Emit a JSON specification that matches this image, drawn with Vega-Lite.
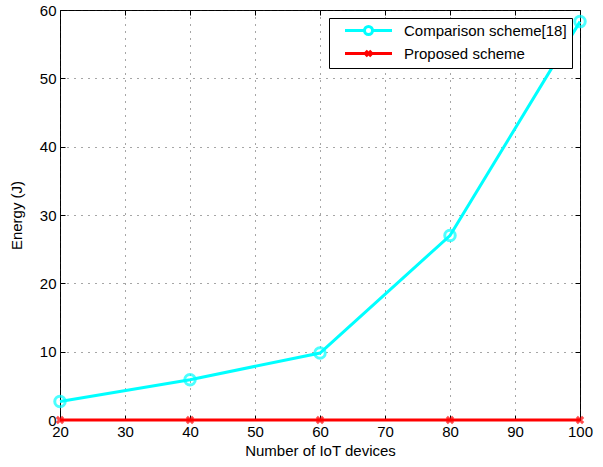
{
  "$schema": "https://vega.github.io/schema/vega-lite/v6.json",
  "width": 520,
  "height": 410,
  "autosize": {"type": "none"},
  "padding": {"left": 60, "top": 10, "right": 23, "bottom": 47},
  "background": "white",
  "config": {
    "font": "Liberation Sans",
    "view": {"stroke": "black", "strokeWidth": 1},
    "axis": {
      "labelFont": "Liberation Sans",
      "titleFont": "Liberation Sans",
      "labelFontSize": 15,
      "titleFontSize": 15,
      "titleFontWeight": "normal",
      "labelColor": "black",
      "titleColor": "black",
      "labelFlush": false,
      "domain": false,
      "tickColor": "black",
      "tickSize": -5,
      "grid": true,
      "gridColor": "#222222",
      "gridDash": [1, 6],
      "gridWidth": 1,
      "gridOpacity": 0.8
    },
    "legend": {
      "symbolOpacity": 1
    }
  },
  "data": {
    "values": [
      {"scheme": "Comparison scheme[18]", "devices": 20, "energy": 2.7},
      {"scheme": "Comparison scheme[18]", "devices": 40, "energy": 5.9},
      {"scheme": "Comparison scheme[18]", "devices": 60, "energy": 9.8},
      {"scheme": "Comparison scheme[18]", "devices": 80, "energy": 27.0},
      {"scheme": "Comparison scheme[18]", "devices": 100, "energy": 58.3},
      {"scheme": "Proposed scheme", "devices": 20, "energy": 0},
      {"scheme": "Proposed scheme", "devices": 40, "energy": 0},
      {"scheme": "Proposed scheme", "devices": 60, "energy": 0},
      {"scheme": "Proposed scheme", "devices": 80, "energy": 0},
      {"scheme": "Proposed scheme", "devices": 100, "energy": 0}
    ]
  },
  "resolve": {"axis": {"x": "independent", "y": "independent"}},
  "layer": [
    {
      "encoding": {
        "x": {
          "field": "devices",
          "type": "quantitative",
          "title": "Number of IoT devices",
          "scale": {"domain": [20, 100], "nice": false, "zero": false},
          "axis": {"orient": "bottom", "values": [20, 30, 40, 50, 60, 70, 80, 90, 100], "labelPadding": 9, "titlePadding": 4}
        },
        "y": {
          "field": "energy",
          "type": "quantitative",
          "title": "Energy (J)",
          "scale": {"domain": [0, 60], "nice": false},
          "axis": {"orient": "left", "values": [0, 10, 20, 30, 40, 50, 60], "labelPadding": 9, "titlePadding": 15}
        },
        "color": {
          "field": "scheme",
          "type": "nominal",
          "title": null,
          "scale": {
            "domain": ["Comparison scheme[18]", "Proposed scheme"],
            "range": ["#00ffff", "#ff0000"]
          },
          "legend": {
            "orient": "top-right",
            "offset": 8,
            "strokeColor": "black",
            "fillColor": "white",
            "padding": 5,
            "labelFontSize": 15,
            "labelLimit": 400,
            "labelColor": "black",
            "labelFont": "Liberation Sans",
            "symbolSize": 100,
            "symbolStrokeWidth": 3,
            "symbolOffset": 27,
            "labelOffset": 28,
            "rowPadding": 3
          }
        }
      },
      "layer": [
        {
          "mark": {"type": "line", "strokeWidth": 3, "clip": false}
        },
        {
          "transform": [{"filter": "datum.scheme === 'Comparison scheme[18]'"}],
          "mark": {"type": "point", "shape": "circle", "filled": false, "size": 110, "strokeWidth": 3, "clip": false}
        },
        {
          "transform": [{"filter": "datum.scheme === 'Proposed scheme'"}],
          "mark": {"type": "point", "shape": "M-1,-1L1,1M-1,1L1,-1", "filled": false, "size": 40, "strokeWidth": 3, "clip": false}
        },
        {
          "mark": {"type": "point", "filled": false, "opacity": 0, "size": 100, "strokeWidth": 3},
          "encoding": {
            "shape": {
              "field": "scheme",
              "type": "nominal",
              "title": null,
              "scale": {
                "domain": ["Comparison scheme[18]", "Proposed scheme"],
                "range": [
                  "M-4.7,0L-0.8,0M0.8,0L4.7,0M-0.8,0A0.8,0.8 0 1,1 0.8,0A0.8,0.8 0 1,1 -0.8,0",
                  "M-4.7,0L4.7,0M-0.55,-0.55L0.55,0.55M-0.55,0.55L0.55,-0.55"
                ]
              }
            }
          }
        }
      ]
    },
    {
      "mark": {"type": "point", "opacity": 0},
      "encoding": {
        "x": {
          "field": "devices",
          "type": "quantitative",
          "title": null,
          "axis": {"orient": "top", "values": [20, 30, 40, 50, 60, 70, 80, 90, 100], "labels": false, "grid": false}
        },
        "y": {
          "field": "energy",
          "type": "quantitative",
          "title": null,
          "axis": {"orient": "right", "values": [0, 10, 20, 30, 40, 50, 60], "labels": false, "grid": false}
        }
      }
    }
  ]
}
